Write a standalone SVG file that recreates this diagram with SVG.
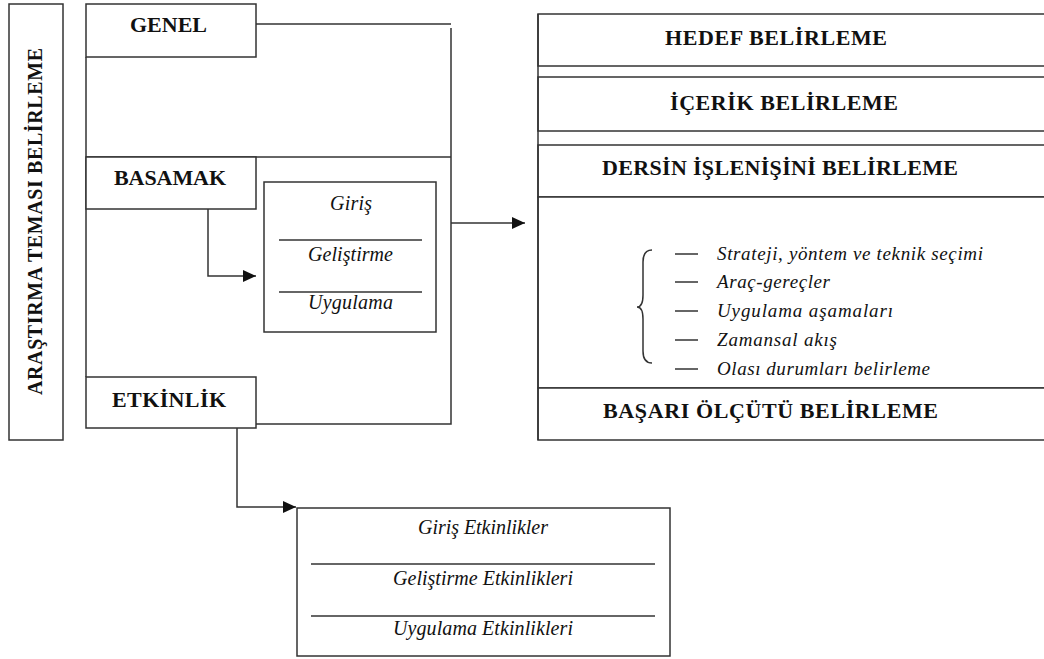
<svg xmlns="http://www.w3.org/2000/svg" width="1044" height="659" viewBox="0 0 1044 659">
<defs>
<marker id="ah" markerUnits="userSpaceOnUse" markerWidth="14" markerHeight="12" refX="13" refY="6" orient="auto">
<path d="M0,0 L13,6 L0,12 Z" fill="#111"/>
</marker>
<style>
.box{fill:#fff;stroke:#333;stroke-width:1.5}
.ln{fill:none;stroke:#333;stroke-width:1.5}
.h{font-family:"Liberation Serif","Times New Roman",serif;font-weight:bold;font-size:22px;fill:#111}
.v{font-family:"Liberation Serif","Times New Roman",serif;font-weight:bold;font-size:20px;fill:#111}
.i{font-family:"Liberation Serif","Times New Roman",serif;font-style:italic;font-size:20px;fill:#111}
.li{font-family:"Liberation Serif","Times New Roman",serif;font-style:italic;font-size:19px;fill:#111}
</style>
</defs>
<rect width="1044" height="659" fill="#fff"/>

<g id="connectors">
<path class="ln" d="M256,24 H451"/>
<path class="ln" d="M451,28 V424 H256"/>
<path class="ln" d="M86,57 V377"/>
<path class="ln" d="M86,157 H451"/>
<path class="ln" d="M451,223 H525" marker-end="url(#ah)"/>
<path class="ln" d="M208,209 V276 H256" marker-end="url(#ah)"/>
<path class="ln" d="M237,428 V507 H296" marker-end="url(#ah)"/>
<path class="ln" d="M588,197 V266 H634" marker-end="url(#ah)"/>
</g>

<g id="arastirma">
<rect class="box" x="9" y="4" width="54" height="436"/>
<text class="v" transform="translate(42,221.5) rotate(-90)" text-anchor="middle" textLength="347" lengthAdjust="spacing">ARAŞTIRMA TEMASI BELİRLEME</text>
</g>

<g id="genel">
<rect class="box" x="86" y="4" width="170" height="53"/>
<text class="h" x="168.5" y="32" text-anchor="middle" textLength="77" lengthAdjust="spacing">GENEL</text>
</g>

<g id="basamak">
<rect class="box" x="86" y="157" width="170" height="52"/>
<text class="h" x="170" y="185" text-anchor="middle" textLength="112" lengthAdjust="spacing">BASAMAK</text>
</g>

<g id="basamak-detay">
<rect class="box" x="264" y="182" width="172" height="150"/>
<line class="ln" x1="279" y1="240" x2="422" y2="240"/>
<line class="ln" x1="279" y1="292" x2="422" y2="292"/>
<text class="i" x="351" y="210" text-anchor="middle" textLength="42" lengthAdjust="spacing">Giriş</text>
<text class="i" x="350.5" y="261" text-anchor="middle" textLength="85" lengthAdjust="spacing">Geliştirme</text>
<text class="i" x="350.5" y="309" text-anchor="middle" textLength="85" lengthAdjust="spacing">Uygulama</text>
</g>

<g id="etkinlik">
<rect class="box" x="86" y="377" width="170" height="51"/>
<text class="h" x="169" y="407" text-anchor="middle" textLength="114" lengthAdjust="spacing">ETKİNLİK</text>
</g>

<g id="etkinlik-detay">
<rect class="box" x="297" y="508" width="373" height="148"/>
<line class="ln" x1="311" y1="564" x2="655" y2="564"/>
<line class="ln" x1="311" y1="616" x2="655" y2="616"/>
<text class="i" x="483" y="534" text-anchor="middle" textLength="130" lengthAdjust="spacing">Giriş Etkinlikler</text>
<text class="i" x="483" y="585" text-anchor="middle" textLength="180" lengthAdjust="spacing">Geliştirme Etkinlikleri</text>
<text class="i" x="483" y="635" text-anchor="middle" textLength="180" lengthAdjust="spacing">Uygulama Etkinlikleri</text>
</g>

<g id="hedef">
<rect class="box" x="538" y="14" width="520" height="52"/>
<text class="h" x="776" y="45" text-anchor="middle" textLength="222" lengthAdjust="spacing">HEDEF BELİRLEME</text>
</g>

<g id="icerik">
<rect class="box" x="538" y="77" width="520" height="54"/>
<text class="h" x="784" y="110" text-anchor="middle" textLength="228" lengthAdjust="spacing">İÇERİK BELİRLEME</text>
</g>

<g id="dersin">
<rect class="box" x="538" y="145" width="520" height="52"/>
<text class="h" x="780" y="175" text-anchor="middle" textLength="356" lengthAdjust="spacing">DERSİN İŞLENİŞİNİ BELİRLEME</text>
</g>

<g id="dersin-detay">
<rect class="box" x="538" y="197" width="520" height="191"/>
<path class="ln" d="M652,250 Q643,250 643,262 V295 Q643,307 637,307 Q643,307 643,319 V351 Q643,363 652,363"/>
<g class="ln">
<line x1="675" y1="254" x2="698" y2="254"/>
<line x1="675" y1="282" x2="698" y2="282"/>
<line x1="675" y1="311" x2="698" y2="311"/>
<line x1="675" y1="340" x2="698" y2="340"/>
<line x1="675" y1="369" x2="698" y2="369"/>
</g>
<text class="li" x="717" y="260" textLength="266" lengthAdjust="spacing">Strateji, yöntem ve teknik seçimi</text>
<text class="li" x="717" y="288" textLength="113" lengthAdjust="spacing">Araç-gereçler</text>
<text class="li" x="717" y="317" textLength="176" lengthAdjust="spacing">Uygulama aşamaları</text>
<text class="li" x="717" y="346" textLength="120" lengthAdjust="spacing">Zamansal akış</text>
<text class="li" x="717" y="375" textLength="213" lengthAdjust="spacing">Olası durumları belirleme</text>
</g>

<g id="basari">
<rect class="box" x="538" y="388" width="520" height="52"/>
<text class="h" x="770.5" y="418" text-anchor="middle" textLength="335" lengthAdjust="spacing">BAŞARI ÖLÇÜTÜ BELİRLEME</text>
</g>

<g id="sag-kenar">
<line class="ln" x1="538" y1="14" x2="538" y2="440"/>
</g>
</svg>
